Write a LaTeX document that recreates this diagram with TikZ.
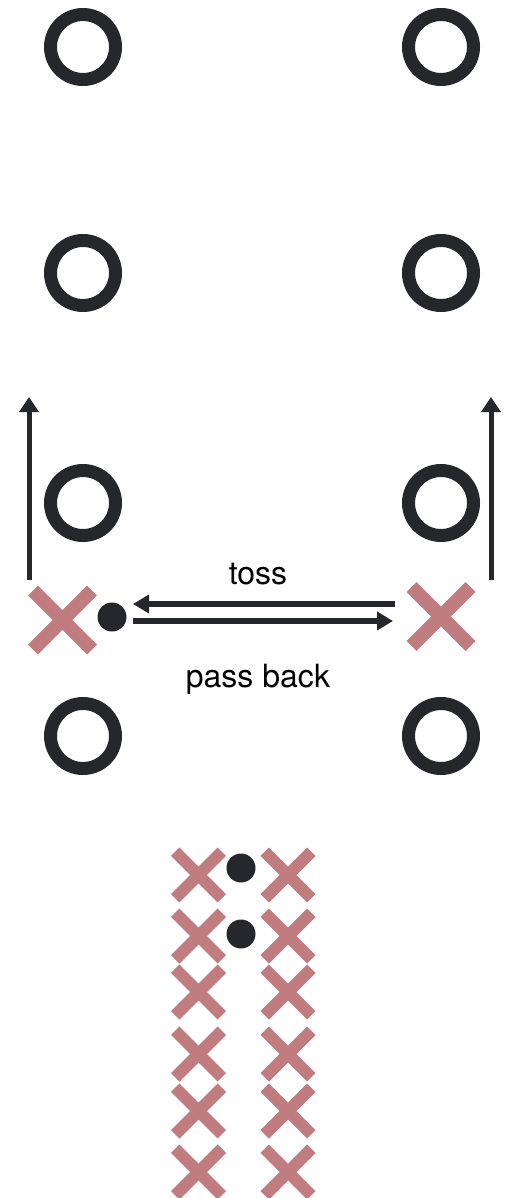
\documentclass[tikz,border=0pt]{standalone}
\usepackage{fontspec}
\setmainfont{TeX Gyre Heros}
\usetikzlibrary{arrows.meta}
\definecolor{ink}{HTML}{25272B}
\definecolor{rose}{HTML}{C17C7F}
\tikzset{
  cone/.style={circle, draw=ink, line width=13pt, minimum size=65pt, inner sep=0pt},
  ball/.style={circle, fill=ink, minimum size=29pt, inner sep=0pt},
  bigx/.style={rectangle, minimum size=90pt, inner sep=0pt,
    path picture={
      \draw[rose, line width=14pt]
        ([shift={(-29.5pt,-29.5pt)}]path picture bounding box.center) --
        ([shift={(29.5pt,29.5pt)}]path picture bounding box.center)
        ([shift={(-29.5pt,29.5pt)}]path picture bounding box.center) --
        ([shift={(29.5pt,-29.5pt)}]path picture bounding box.center);}},
  smallx/.style={rectangle, minimum size=72pt, inner sep=0pt,
    path picture={
      \draw[rose, line width=12pt]
        ([shift={(-23.3pt,-23.3pt)}]path picture bounding box.center) --
        ([shift={(23.3pt,23.3pt)}]path picture bounding box.center)
        ([shift={(-23.3pt,23.3pt)}]path picture bounding box.center) --
        ([shift={(23.3pt,-23.3pt)}]path picture bounding box.center);}},
  run/.style={draw=ink, line width=5pt, -{Triangle[length=15pt, width=19pt]}},
  throw/.style={draw=ink, line width=6pt, -{Triangle[length=16pt, width=18pt]}},
  lbl/.style={anchor=base, text=black, font=\fontsize{32}{36}\selectfont, inner sep=0pt}
}
\begin{document}
\begin{tikzpicture}[x=1pt, y=-1pt]
\useasboundingbox (0,0) rectangle (508,1198);

% cones, four rows of two
\node[cone] (c1l) at (83,47) {};
\node[cone] (c1r) at (441,47) {};
\node[cone] (c2l) at (83,273) {};
\node[cone] (c2r) at (441,273) {};
\node[cone] (c3l) at (83,503) {};
\node[cone] (c3r) at (441,503) {};
\node[cone] (c4l) at (83,736) {};
\node[cone] (c4r) at (441,736) {};

% the two working players and the ball
\node[bigx] (pl) at (62.5,620) {};
\node[bigx] (pr) at (441,616.5) {};
\node[ball] (bl) at (112,617) {};

% runs up the outside
\coordinate (runLs) at (29,580);
\coordinate (runLe) at (29,397);
\coordinate (runRs) at (491,580);
\coordinate (runRe) at (491,397);
\draw[run] (runLs) -- (runLe);
\draw[run] (runRs) -- (runRe);

% toss and pass back
\coordinate (tossS) at (395,604);
\coordinate (tossE) at (133,604);
\coordinate (backS) at (133,621);
\coordinate (backE) at (393,621);
\draw[throw] (tossS) -- (tossE);
\draw[throw] (backS) -- (backE);
\node[lbl] (ltoss) at (258,584) {toss};
\node[lbl] (lback) at (258,687) {pass back};

% waiting lines
\foreach \i/\yy in {1/875,2/936,3/992,4/1054,5/1111,6/1172}{
  \node[smallx] (ql\i) at (198.5,\yy) {};
  \node[smallx] (qr\i) at (288,\yy) {};
}
\node[ball] (bq1) at (241,868) {};
\node[ball] (bq2) at (241,934) {};
\end{tikzpicture}
\end{document}
